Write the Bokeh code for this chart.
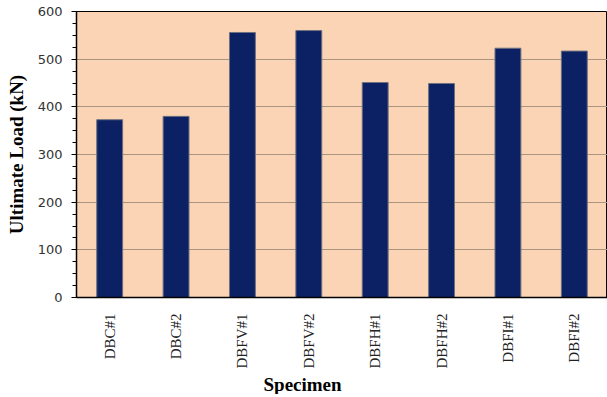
import math
from bokeh.plotting import figure
from bokeh.models import SingleIntervalTicker, Title, Range1d, FactorRange
from bokeh.embed import file_html
from bokeh.resources import INLINE

specimens = ["DBC#1", "DBC#2", "DBFV#1", "DBFV#2", "DBFH#1", "DBFH#2", "DBFI#1", "DBFI#2"]
ultimate_load = [373, 380, 556, 560, 451, 449, 523, 517]

p = figure(x_range=FactorRange(*specimens), y_range=Range1d(0, 600),
           width=607, height=397, output_backend="svg", toolbar_location=None,
           min_border_left=76, min_border_right=0, min_border_top=11, min_border_bottom=0)
p.frame_width = 531
p.frame_height = 286

p.background_fill_color = "#FAD4B4"
p.border_fill_color = "white"
p.outline_line_color = "black"
p.outline_line_width = 1

p.vbar(x=specimens, top=ultimate_load, width=0.39, fill_color="#0B2163",
       line_color="#6E7080", line_width=1)

p.xgrid.grid_line_color = None
p.ygrid.grid_line_color = "#A8947F"
p.ygrid.grid_line_width = 1

p.yaxis.ticker = SingleIntervalTicker(interval=100, num_minor_ticks=4)
p.yaxis.axis_label = "Ultimate Load (kN)"
p.yaxis.axis_label_text_font = "Liberation Serif"
p.yaxis.axis_label_text_font_style = "bold"
p.yaxis.axis_label_text_font_size = "19px"
p.yaxis.axis_label_text_color = "black"
p.yaxis.axis_label_standoff = 8
p.yaxis.major_label_text_font = "DejaVu Sans"
p.yaxis.major_label_text_font_size = "13px"
p.yaxis.major_label_text_color = "#333333"
p.yaxis.major_label_standoff = 9
p.yaxis.major_tick_in = 0
p.yaxis.major_tick_out = 5
p.yaxis.minor_tick_in = 0
p.yaxis.minor_tick_out = 4
p.yaxis.axis_line_color = "black"
p.yaxis.axis_line_width = 1.5
p.yaxis.major_tick_line_color = "black"
p.yaxis.minor_tick_line_color = "black"

p.xaxis.major_label_orientation = math.pi / 2
p.xaxis.major_label_text_font = "Liberation Serif"
p.xaxis.major_label_text_font_size = "15px"
p.xaxis.major_label_text_color = "#222222"
p.xaxis.major_label_standoff = 10
p.xaxis.major_tick_line_color = None
p.xaxis.minor_tick_line_color = None
p.xaxis.axis_line_color = "black"
p.xaxis.axis_line_width = 1.5

p.add_layout(Title(text="Specimen", align="left", offset=187, standoff=0,
                   text_font="Liberation Serif", text_font_style="bold",
                   text_font_size="19px", text_color="black"), "below")

open("out.html", "w").write(file_html(p, INLINE))
